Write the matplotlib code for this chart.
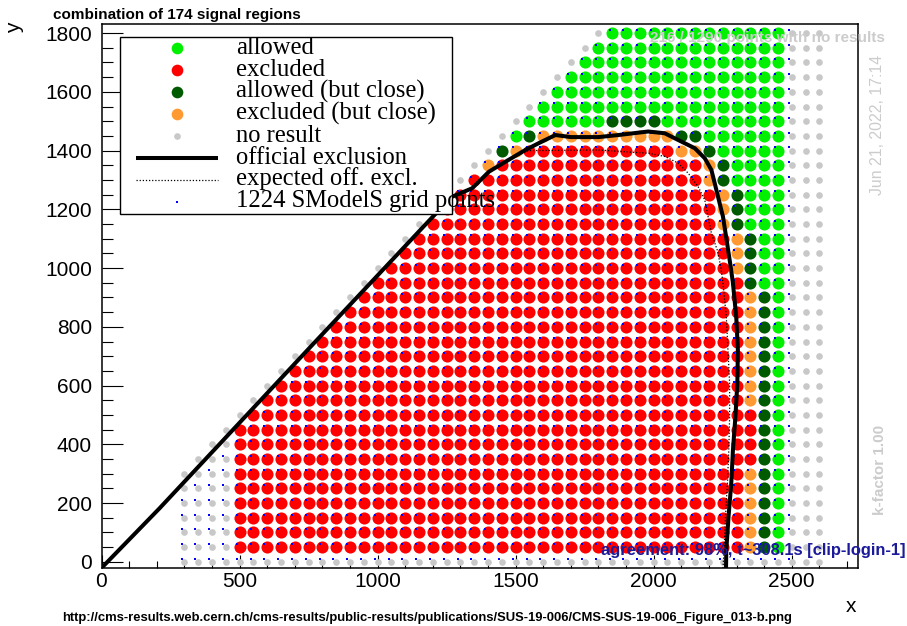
import numpy as np
import matplotlib
matplotlib.use("Agg")
import matplotlib.pyplot as plt
from matplotlib.patches import Rectangle

plt.rcParams['font.family'] = 'Liberation Sans'

W, H = 907, 626          # figure size in pixels

# validation grid (GeV)
grid_x = np.arange(300, 2601, 50)
grid_y = np.arange(0, 1801, 50)

# last excluded column per row
red_rows = [50, 100, 150, 200, 250, 300, 350, 400, 450, 500, 550, 600, 650, 700,
            750, 800, 850, 900, 950, 1000, 1050, 1100, 1150, 1200, 1250, 1300, 1350, 1400]
red_last = [2300, 2300, 2300, 2300, 2300, 2300, 2350, 2350, 2350, 2350, 2300, 2300, 2300, 2300,
            2300, 2300, 2300, 2300, 2300, 2250, 2250, 2250, 2200, 2200, 2200, 2150, 2150, 2050]

# (x from, x to, y from, y to) blocks of grid points
close_excluded = [
    (2350, 2350, 50, 300),
    (2350, 2350, 550, 900),
    (2300, 2300, 1000, 1100),
    (2250, 2250, 1150, 1250),
    (2200, 2200, 1300, 1350),
    (2100, 2150, 1400, 1400),
    (1500, 1500, 1400, 1400),
    (1400, 1400, 1350, 1350),
    (1600, 2050, 1450, 1450),
]
close_allowed = [
    (2400, 2400, 50, 900),
    (2350, 2350, 950, 1100),
    (2300, 2300, 1150, 1250),
    (2250, 2250, 1300, 1350),
    (2200, 2200, 1400, 1400),
    (1450, 1450, 1400, 1400),
    (1550, 1550, 1450, 1450),
    (2100, 2150, 1450, 1450),
    (1850, 2000, 1500, 1500),
]

# official exclusion curve
obs_x = [0, 210, 780, 1200, 1270, 1343, 1403, 1463, 1535, 1583, 1644, 1700, 1800, 1872,
         1980, 2040, 2089, 2149, 2185, 2209, 2221, 2233, 2251, 2265, 2278, 2287, 2299,
         2305, 2303, 2296, 2287, 2281, 2271, 2263, 2262]
obs_y = [-21, 182, 755, 1175, 1243, 1272, 1328, 1362, 1402, 1425, 1453, 1446, 1446, 1453,
         1465, 1459, 1436, 1408, 1374, 1334, 1289, 1243, 1175, 1090, 1010, 949, 834,
         721, 608, 494, 380, 267, 153, 40, -21]
# expected curve
exp_x = [0, 1200, 1270, 1343, 1403, 1463, 1545, 1800, 1982, 2041, 2089, 2125, 2161, 2185,
         2197, 2209, 2230, 2243, 2251, 2263, 2269, 2275, 2275, 2272, 2267, 2260, 2255, 2251]
exp_y = [-25, 1175, 1243, 1272, 1328, 1362, 1400, 1402, 1391, 1380, 1357, 1323, 1277, 1232,
         1175, 1119, 1062, 1005, 949, 834, 721, 608, 494, 380, 267, 153, 40, -21]


def expand(blocks):
    pts = set()
    for x0, x1, y0, y1 in blocks:
        for x in range(x0, x1 + 1, 50):
            for y in range(y0, y1 + 1, 50):
                pts.add((x, y))
    return pts


orange_set = expand(close_excluded)
dark_set = expand(close_allowed)
red_map = dict(zip(red_rows, red_last))

cls = {'allowed': [], 'excluded': [], 'dark': [], 'orange': [], 'none': []}
blue = []
for x in grid_x:
    for y in grid_y:
        x, y = int(x), int(y)
        if y > x:
            continue
        if x <= 2500 and y != x:
            blue.append((x, y))
        if x < 500 or x > 2450 or y == 0 or y == x:
            cls['none'].append((x, y))
        elif (x, y) in orange_set:
            cls['orange'].append((x, y))
        elif (x, y) in dark_set:
            cls['dark'].append((x, y))
        elif x <= red_map.get(y, 0):
            cls['excluded'].append((x, y))
        else:
            cls['allowed'].append((x, y))

colors = {'allowed': '#00f000', 'excluded': '#ff0000', 'dark': '#005a00',
          'orange': '#ff9a33', 'none': '#c8c8c8'}

fig = plt.figure(figsize=(W / 100, H / 100), dpi=100)
ax = fig.add_axes([101.5 / W, 1 - 568 / H, (858 - 101.5) / W, (568 - 24) / H])

for k in ['none', 'excluded', 'allowed', 'dark', 'orange']:
    pts = np.array(cls[k])
    ax.scatter(pts[:, 0], pts[:, 1], s=23 if k == 'none' else 76, c=colors[k],
               linewidths=0, zorder=2)
bp = np.array(blue)
ax.scatter(bp[:, 0] - 10, bp[:, 1] + 11, s=4, marker='s', c='#0000ff',
           linewidths=0, zorder=3)

ax.plot(exp_x, exp_y, color='black', lw=0.9, ls=(0, (1, 1.5)), zorder=4)
ax.plot(obs_x, obs_y, color='black', lw=2.9, zorder=5, solid_capstyle='butt')

ax.set_xlim(0, 2740)
ax.set_ylim(-21, 1831)
ax.set_xticks(np.arange(0, 2501, 500))
ax.set_xticks(np.arange(0, 2701, 100), minor=True)
ax.set_yticks(np.arange(0, 1801, 200))
ax.set_yticks(np.arange(0, 1801, 50), minor=True)
ax.tick_params(axis='x', which='major', direction='in', length=9.5, width=0.8,
               labelsize=15, pad=3)
ax.tick_params(axis='x', which='minor', direction='in', length=5, width=0.8)
ax.tick_params(axis='y', which='major', direction='in', length=15, width=0.8,
               labelsize=15, pad=7)
ax.tick_params(axis='y', which='minor', direction='in', length=8, width=0.8)
for s in ax.spines.values():
    s.set_linewidth(1.1)

# legend drawn by hand so the last label can run past the box like the original
lax = fig.add_axes([120 / W, 1 - 214 / H, 332 / W, 177 / H], zorder=10)
lax.set_xlim(0, 332)
lax.set_ylim(177, 0)
lax.axis('off')
lax.add_patch(Rectangle((0, 0), 332, 177, facecolor='white', edgecolor='black',
                        lw=1.0, clip_on=False))
leg_labels = ['allowed', 'excluded', 'allowed (but close)', 'excluded (but close)',
              'no result', 'official exclusion', 'expected off. excl.',
              '%d SModelS grid points' % 1224]
mx = 57
for i, lab in enumerate(leg_labels):
    yy = 11 + 22 * i
    if i < 4:
        key = ['allowed', 'excluded', 'dark', 'orange'][i]
        lax.plot(mx, yy, 'o', ms=8.4, mew=0, color=colors[key])
    elif i == 4:
        lax.plot(mx, yy, 'o', ms=4.8, mew=0, color=colors['none'])
    elif i == 5:
        lax.plot([16, 98], [yy, yy], color='black', lw=2.9, solid_capstyle='butt')
    elif i == 6:
        lax.plot([16, 98], [yy, yy], color='black', lw=0.9, ls=(0, (1, 1.5)))
    else:
        lax.plot(mx, yy, 's', ms=1.8, mew=0, color='#0000ff')
    lax.text(116, yy + 5.5, lab, family='Liberation Serif', fontsize=17.7,
             va='baseline', ha='left', clip_on=False)


def fx(p):
    return p / W


def fy(p):
    return 1 - p / H


fig.text(fx(53), fy(15), 'combination of 174 signal regions', fontsize=11,
         weight='bold', ha='left', va='center')
fig.text(fx(15), fy(28), 'y', fontsize=15, rotation=90, ha='center', va='center')
fig.text(fx(851), fy(606), 'x', fontsize=15, ha='center', va='center')
fig.text(fx(650), fy(38), '216 / 1290 points with no results', fontsize=11,
         weight='bold', color='#cccccc', ha='left', va='center', zorder=20)
fig.text(fx(878), fy(125), 'Jun 21, 2022, 17:14', fontsize=11.4, rotation=90,
         color='#cccccc', ha='center', va='center')
fig.text(fx(880), fy(470), 'k-factor 1.00', fontsize=11, weight='bold', rotation=90,
         color='#cccccc', ha='center', va='center')
fig.text(fx(601), fy(550), 'agreement: 98%, t~308.1s [clip-login-1]', fontsize=11.9,
         weight='bold', color='#1a1a9a', ha='left', va='center', zorder=20)
fig.text(fx(62), fy(618),
         'http://cms-results.web.cern.ch/cms-results/public-results/publications/'
         'SUS-19-006/CMS-SUS-19-006_Figure_013-b.png',
         fontsize=9.4, weight='bold', ha='left', va='center')

fig.savefig('out.png', dpi=100)
